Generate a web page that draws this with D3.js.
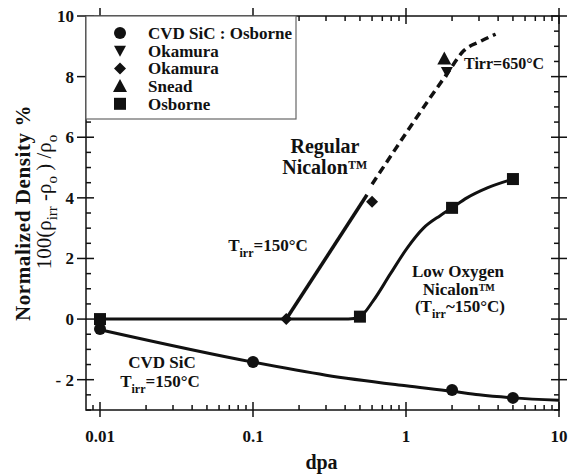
<!DOCTYPE html>
<html>
<head>
<meta charset="utf-8">
<script src="https://cdn.jsdelivr.net/npm/d3@7"></script>
<style>
	body { margin:0; background:#fff; }
	text { font-family:"Liberation Serif", "DejaVu Serif", serif; font-weight:bold; fill:#111; }
</style>
</head>
<body>
<div id="chart"></div>
<script>
// values (x = dpa, y = %)
var cvdPoints = [[0.01,-0.33],[0.1,-1.42],[2,-2.34],[5,-2.6]];
var cvdCurve = [[0.01,-0.35],[0.1,-1.42],[0.3,-1.85],[1,-2.2],[2,-2.38],[3,-2.5],[5,-2.6],[10,-2.68]];
var okamuraDown = [[1.85,8.15]];
var okamuraDiamond = [[0.165,0],[0.6,3.87]];
var sneadUp = [[1.78,8.6]];
var osbornePoints = [[0.01,0],[0.5,0.08],[2,3.67],[5,4.62]];
var lowOxCurve = [[0.01,0],[0.42,0],[0.5,0.08],[0.61,0.6],[0.79,1.49],[1.02,2.35],[1.3,3.0],[1.68,3.42],[2,3.67],[2.5,4.0],[3.4,4.33],[5,4.62]];
var regularSolid = [[0.165,0],[0.556,4.1]];
var regularDashed = [[0.6,4.45],[1.87,8.12],[2.38,8.85],[3.09,9.17],[3.85,9.4]];
var xTicks = [0.01,0.1,1,10];
var xTickLabels = ["0.01","0.1","1","10"];
var yTicks = [-2,0,2,4,6,8,10];
var yTickLabels = ["- 2","0","2","4","6","8","10"];
var legendNames = ["CVD SiC : Osborne","Okamura","Okamura","Snead","Osborne"];
var legendSymbols = ["circle","down","diamond","up","square"];

var W = 570, H = 475;
var pL = 86, pR = 559, pT = 16, pB = 410;

var x = d3.scaleLog().domain([0.0081,10]).range([pL,pR]);
var y = d3.scaleLinear().domain([-3,10]).range([pB,pT]);

var svg = d3.select("#chart")
			.append("svg")
			.attr("width", W+"px")
			.attr("height", H+"px");

// minor ticks
var minorX = [];
[0.001,0.01,0.1,1].forEach(function(d){
	for(var k=2;k<10;k++){
		var v = d*k;
		if(v>=0.0081 && v<=10) minorX.push(v);
	}
});
var minorY = d3.range(-3,10.01,0.5).filter(function(v){ return v%2!=0; });

function drawAxes(){
	svg.append("rect")
		.attr("x",pL).attr("y",pT)
		.attr("width",pR-pL).attr("height",pB-pT)
		.attr("fill","none").attr("stroke","#111").attr("stroke-width",1.5);

	var g = svg.append("g").attr("stroke","#111").attr("stroke-width",1.5);
	minorX.forEach(function(v){
		g.append("line").attr("x1",x(v)).attr("x2",x(v)).attr("y1",pB).attr("y2",pB-5);
		g.append("line").attr("x1",x(v)).attr("x2",x(v)).attr("y1",pT).attr("y2",pT+5);
	});
	xTicks.forEach(function(v){
		g.append("line").attr("x1",x(v)).attr("x2",x(v)).attr("y1",pB-8).attr("y2",pB+7);
		g.append("line").attr("x1",x(v)).attr("x2",x(v)).attr("y1",pT-8).attr("y2",pT+8);
	});
	minorY.forEach(function(v){
		g.append("line").attr("x1",pL).attr("x2",pL+5).attr("y1",y(v)).attr("y2",y(v));
		g.append("line").attr("x1",pR).attr("x2",pR-5).attr("y1",y(v)).attr("y2",y(v));
	});
	yTicks.forEach(function(v){
		g.append("line").attr("x1",pL-9).attr("x2",pL+8).attr("y1",y(v)).attr("y2",y(v));
		g.append("line").attr("x1",pR-8).attr("x2",pR+8).attr("y1",y(v)).attr("y2",y(v));
	});

	xTicks.forEach(function(v,i){
		svg.append("text")
			.attr("x",x(v)).attr("y",442)
			.attr("text-anchor","middle")
			.style("font-size","17px")
			.text(xTickLabels[i]);
	});
	yTicks.forEach(function(v,i){
		svg.append("text")
			.attr("x",pL-12).attr("y",y(v)+6)
			.attr("text-anchor","end")
			.style("font-size","17px")
			.text(yTickLabels[i]);
	});

	svg.append("text")
		.attr("x",(pL+pR)/2-1).attr("y",469)
		.attr("text-anchor","middle")
		.style("font-size","20px")
		.text("dpa");

	svg.append("text")
		.attr("transform","translate(30,213) rotate(-90)")
		.attr("text-anchor","middle")
		.style("font-size","21px")
		.style("letter-spacing","0.6px")
		.text("Normalized Density %");

	var t = svg.append("text")
		.attr("transform","translate(51,202) rotate(-90)")
		.attr("text-anchor","middle")
		.style("font-size","21px")
		.style("font-weight","normal");
	t.append("tspan").text("100(ρ");
	t.append("tspan").attr("dy",6).style("font-size","15px").text("irr");
	t.append("tspan").attr("dy",-6).text(" -ρ");
	t.append("tspan").attr("dy",6).style("font-size","15px").text("o");
	t.append("tspan").attr("dy",-6).text(" ) /ρ");
	t.append("tspan").attr("dy",6).style("font-size","15px").text("o");
}

function drawLines(){
	var line = d3.line()
		.x(function(d){ return x(d[0]); })
		.y(function(d){ return y(d[1]); });
	var smooth = d3.line()
		.x(function(d){ return x(d[0]); })
		.y(function(d){ return y(d[1]); })
		.curve(d3.curveMonotoneX);

	svg.append("path").attr("d",smooth(cvdCurve))
		.attr("fill","none").attr("stroke","#111").attr("stroke-width",3);
	svg.append("path").attr("d",smooth(lowOxCurve))
		.attr("fill","none").attr("stroke","#111").attr("stroke-width",3);
	svg.append("path").attr("d",line(regularSolid))
		.attr("fill","none").attr("stroke","#111").attr("stroke-width",3.5);
	svg.append("path").attr("d",smooth(regularDashed))
		.attr("fill","none").attr("stroke","#111").attr("stroke-width",3.5)
		.attr("stroke-dasharray","8,5");
}

function symbol(type,cx,cy){
	var s;
	if(type=="circle"){
		s = svg.append("circle").attr("cx",cx).attr("cy",cy).attr("r",6);
	}
	else if(type=="square"){
		s = svg.append("rect").attr("x",cx-6).attr("y",cy-6).attr("width",12).attr("height",12);
	}
	else if(type=="diamond"){
		s = svg.append("path").attr("d","M"+cx+","+(cy-6)+"L"+(cx+6)+","+cy+"L"+cx+","+(cy+6)+"L"+(cx-6)+","+cy+"Z");
	}
	else if(type=="up"){
		s = svg.append("path").attr("d","M"+cx+","+(cy-7)+"L"+(cx+7)+","+(cy+6)+"L"+(cx-7)+","+(cy+6)+"Z");
	}
	else{
		s = svg.append("path").attr("d","M"+(cx-6)+","+(cy-5)+"L"+(cx+6)+","+(cy-5)+"L"+cx+","+(cy+6)+"Z");
	}
	s.attr("fill","#111");
	return s;
}

function drawMarkers(){
	cvdPoints.forEach(function(d){ symbol("circle",x(d[0]),y(d[1])); });
	osbornePoints.forEach(function(d){ symbol("square",x(d[0]),y(d[1])); });
	okamuraDiamond.forEach(function(d){ symbol("diamond",x(d[0]),y(d[1])); });
	okamuraDown.forEach(function(d){ symbol("down",x(d[0]),y(d[1])); });
	sneadUp.forEach(function(d){ symbol("up",x(d[0]),y(d[1])); });
}

function drawLegend(){
	svg.append("rect")
		.attr("x",pL).attr("y",pT)
		.attr("width",210).attr("height",103)
		.attr("fill","#fff").attr("stroke","#666").attr("stroke-width",1.2);
	legendNames.forEach(function(name,i){
		var cy = 33+i*17.7;
		symbol(legendSymbols[i],120,cy);
		svg.append("text")
			.attr("x",148).attr("y",cy+6)
			.style("font-size","17px")
			.text(name);
	});
}

function label(txt,cx,by,size){
	return svg.append("text")
		.attr("x",cx).attr("y",by)
		.attr("text-anchor","middle")
		.style("font-size",(size||17)+"px")
		.text(txt);
}

function tirr(cx,by,rest,open){
	var t = svg.append("text")
		.attr("x",cx).attr("y",by)
		.attr("text-anchor","middle")
		.style("font-size","17px");
	t.append("tspan").text((open||"")+"T");
	t.append("tspan").attr("dy",6).style("font-size","12px").text("irr");
	t.append("tspan").attr("dy",-6).text(rest);
	return t;
}

function drawLabels(){
	label("Regular",325,153,20);
	label("Nicalon™",325,174,20);
	tirr(268,251,"=150°C");
	label("Low Oxygen",458,277);
	label("Nicalon™",459,295);
	tirr(460,312,"~150°C)","(");
	label("CVD SiC",162,368,17);
	tirr(160,387,"=150°C");
	svg.append("text")
		.attr("x",464).attr("y",69)
		.style("font-size","16px")
		.text("Tirr=650°C");
}

drawAxes();
drawLines();
drawMarkers();
drawLegend();
drawLabels();
</script>
</body>
</html>
